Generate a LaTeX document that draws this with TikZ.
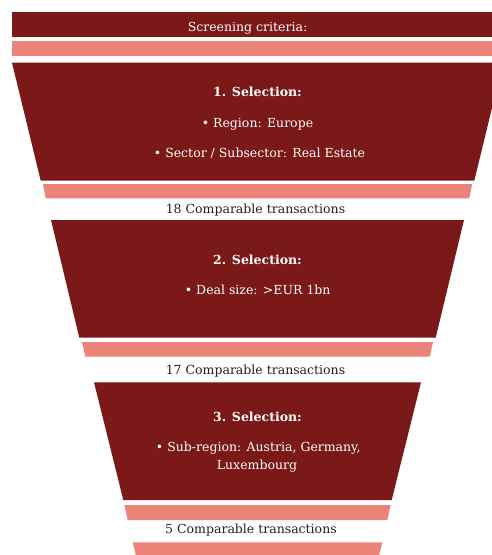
\documentclass[tikz,border=0pt]{standalone}
\usepackage{fontspec}
\setmainfont{DejaVu Serif}
\definecolor{funneldark}{RGB}{123,24,24}
\definecolor{funnelpink}{RGB}{235,131,121}
\definecolor{counttext}{RGB}{34,30,30}
\tikzset{stagetext/.style={text=white,anchor=base,inner sep=0,font=\fontsize{12.5}{15}\selectfont},
    stagehead/.style={stagetext,font=\fontsize{12.5}{15}\selectfont\bfseries},
    counttext/.style={text=counttext,anchor=base,inner sep=0,font=\fontsize{12.5}{15}\selectfont}
}
\newcommand{\funnelband}[5]
{
% args: (y of top edge, y of bottom edge, x of top left corner, x of bottom left corner, fill colour)
    \pgfmathsetmacro\toprightx{515-#3}
    \pgfmathsetmacro\bottomrightx{515-#4}

    \fill [#5] (#3,#1) -- (\toprightx,#1) -- (\bottomrightx,#2) -- (#4,#2) -- cycle;
}
\begin{document}
\begin{tikzpicture}[x=1pt,y=-1pt]

\useasboundingbox (0,0) rectangle (492,555);
\clip (0,0) rectangle (492,555);

\fill [funneldark] (12,12) rectangle (492,37);
\fill [funnelpink] (12,41) rectangle (492,56);
\node (screening) [stagetext] at (247.5,31) {Screening criteria:};

% first stage
\funnelband{62.7}{180.7}{12}{40.7}{funneldark}
\funnelband{184}{198.3}{43}{45.7}{funnelpink}
\node (sel1) [stagehead] at (257.5,96.7) {1. Selection:};
\node (region) [stagetext] at (257.5,127.3) {\textbullet{} Region: Europe};
\node (sector) [stagetext] at (259.5,157.7) {\textbullet{} Sector / Subsector: Real Estate};
\node (count18) [counttext] at (255.5,213) {18 Comparable transactions};

% second stage
\funnelband{220}{337.7}{51}{79.3}{funneldark}
\funnelband{342}{356.7}{82}{85.3}{funnelpink}
\node (sel2) [stagehead] at (257.5,264) {2. Selection:};
\node (dealsize) [stagetext] at (257.7,294.3) {\textbullet{} Deal size: >EUR 1bn};
\node (count17) [counttext] at (255.5,374.3) {17 Comparable transactions};

% third stage
\funnelband{382.3}{500}{94}{123.3}{funneldark}
\funnelband{505}{520}{124.3}{127.7}{funnelpink}
\node (sel3) [stagehead] at (257.5,421.7) {3. Selection:};
\node (subregion) [stagetext] at (258.3,451.7) {\textbullet{} Sub-region: Austria, Germany,};
\node (lux) [stagetext] at (257,469) {Luxembourg};
\node (count5) [counttext] at (251,533.3) {5 Comparable transactions};

\funnelband{542.3}{558}{132.7}{136.6}{funnelpink}

\end{tikzpicture}
\end{document}
